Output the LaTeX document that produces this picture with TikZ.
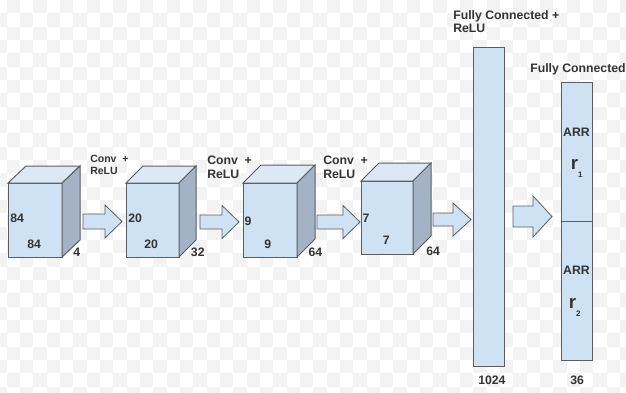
\documentclass[tikz,border=0pt]{standalone}
\usepackage{fontspec}
\setmainfont{Liberation Sans}
\definecolor{front}{HTML}{CFE2F3}
\definecolor{topface}{HTML}{DCE8F5}
\definecolor{sideface}{HTML}{A3B3C5}
\definecolor{edge}{HTML}{5A5E63}
\definecolor{textc}{HTML}{333333}
\definecolor{check}{HTML}{F3F3F3}
\tikzset{
  face/.style={draw=edge, line width=0.75pt, line join=miter},
  arrowbox/.style={draw=edge, fill=front, line width=0.6pt},
  bar/.style={draw=edge, fill=front, line width=0.75pt},
  lbl/.style={font=\bfseries\fontsize{9.2}{11}\selectfont, text=textc, inner sep=0pt, anchor=base west},
  smalllbl/.style={font=\bfseries\fontsize{7.9}{9.6}\selectfont, text=textc, inner sep=0pt, anchor=base west},
}
% 3D block: #1 name, #2 left x, #3 top y, #4 width, #5 height, #6 depth x, #7 depth y
\newcommand\layerblock[7]{%
  \coordinate (#1-tl) at (#2,#3);
  \coordinate (#1-br) at (#2+#4,#3+#5);
  \filldraw[face, fill=front] (#1-tl) rectangle (#1-br);
  \filldraw[face, fill=topface] (#2,#3) -- (#2+#6,#3-#7) -- (#2+#4+#6,#3-#7) -- (#2+#4,#3) -- cycle;
  \filldraw[face, fill=sideface] (#2+#4,#3) -- (#2+#4+#6,#3-#7) -- (#2+#4+#6,#3+#5-#7) -- (#2+#4,#3+#5) -- cycle;
}
% block arrow: #1 tail x, #2 head start x, #3 tip x, #4 centre y, #5 half shaft, #6 half head
\newcommand\blockarrow[6]{%
  \draw[arrowbox] (#1,#4-#5) -- (#2,#4-#5) -- (#2,#4-#6) -- (#3,#4) -- (#2,#4+#6) -- (#2,#4+#5) -- (#1,#4+#5) -- cycle;
}
\begin{document}
\begin{tikzpicture}[x=0.75pt,y=-0.75pt]
\useasboundingbox (0,0) rectangle (626,393);
\fill[white] (0,0) rectangle (626,393);
% faint checkered backdrop
\begin{scope}
\clip (0,0) rectangle (626,393);
\foreach \i in {0,...,47}{
  \foreach \j in {0,...,29}{
    \pgfmathtruncatemacro\parity{mod(\i+\j,2)}
    \ifnum\parity=1
      \fill[check] ({-6.667+\i*13.333},{\j*13.333}) rectangle ++(13.333,13.333);
    \fi
  }
}
\end{scope}

% convolutional volumes
\layerblock{c1}{8}{183}{54}{74}{18}{17}
\layerblock{c2}{126}{183}{53}{74}{17}{17}
\layerblock{c3}{243}{183}{54}{74}{18}{18}
\layerblock{c4}{361}{181}{52}{73}{18}{18}

% block arrows between stages
\blockarrow{83}{105}{122}{221.5}{7.5}{16.5}
\blockarrow{200}{222}{239}{222}{7}{16.5}
\blockarrow{317}{343}{360}{222}{7}{16.5}
\blockarrow{433}{453}{471}{219.5}{6.5}{16.5}
\blockarrow{513}{533}{552}{216.5}{10.5}{20.5}

% fully connected layers
\draw[bar] (473,47) rectangle (504,366);
\node[inner sep=0pt] (fc1) at (488.5,206.5) {};
\draw[bar] (561,82) rectangle (592,360);
\draw[face] (561,221) -- (592,221);
\node[inner sep=0pt] (fc2) at (576.5,221) {};

% dimensions of the volumes
\node[lbl] at (10,222.7) {84};
\node[lbl] at (27,248.3) {84};
\node[lbl] at (73,256.7) {4};
\node[lbl] at (128,222.7) {20};
\node[lbl] at (144,248.3) {20};
\node[lbl] at (190.7,256.7) {32};
\node[lbl] at (244.3,225) {9};
\node[lbl] at (264,248.3) {9};
\node[lbl] at (308.3,256.7) {64};
\node[lbl] at (362.3,222.7) {7};
\node[lbl] at (382.7,244.3) {7};
\node[lbl] at (426,255) {64};
\node[lbl] at (478,384.3) {1024};
\node[lbl] at (570,384.3) {36};

% stage captions
\node[smalllbl] at (90,162) {Conv\hspace{0.55em}+};
\node[smalllbl] at (90,174.3) {ReLU};
\node[lbl] at (207,164) {Conv\hspace{0.55em}+};
\node[lbl] at (207,178.3) {ReLU};
\node[lbl] at (323,164) {Conv\hspace{0.55em}+};
\node[lbl] at (323,178.3) {ReLU};
\node[lbl] at (453,19.5) {Fully Connected +};
\node[lbl] at (453,32.5) {ReLU};
\node[lbl] at (530,72.7) {Fully Connected};

% output heads
\node[lbl, anchor=base] at (576.5,136.7) {ARR};
\node[lbl, anchor=base] at (576.5,274.3) {ARR};
\node[inner sep=0pt, anchor=base west, text=textc] at (570.5,169.3)
  {\bfseries\fontsize{14}{14}\selectfont r\raisebox{-6pt}{\fontsize{6}{6}\selectfont 1}};
\node[inner sep=0pt, anchor=base west, text=textc] at (568.5,308.3)
  {\bfseries\fontsize{14}{14}\selectfont r\raisebox{-6pt}{\fontsize{6}{6}\selectfont 2}};
\end{tikzpicture}
\end{document}
